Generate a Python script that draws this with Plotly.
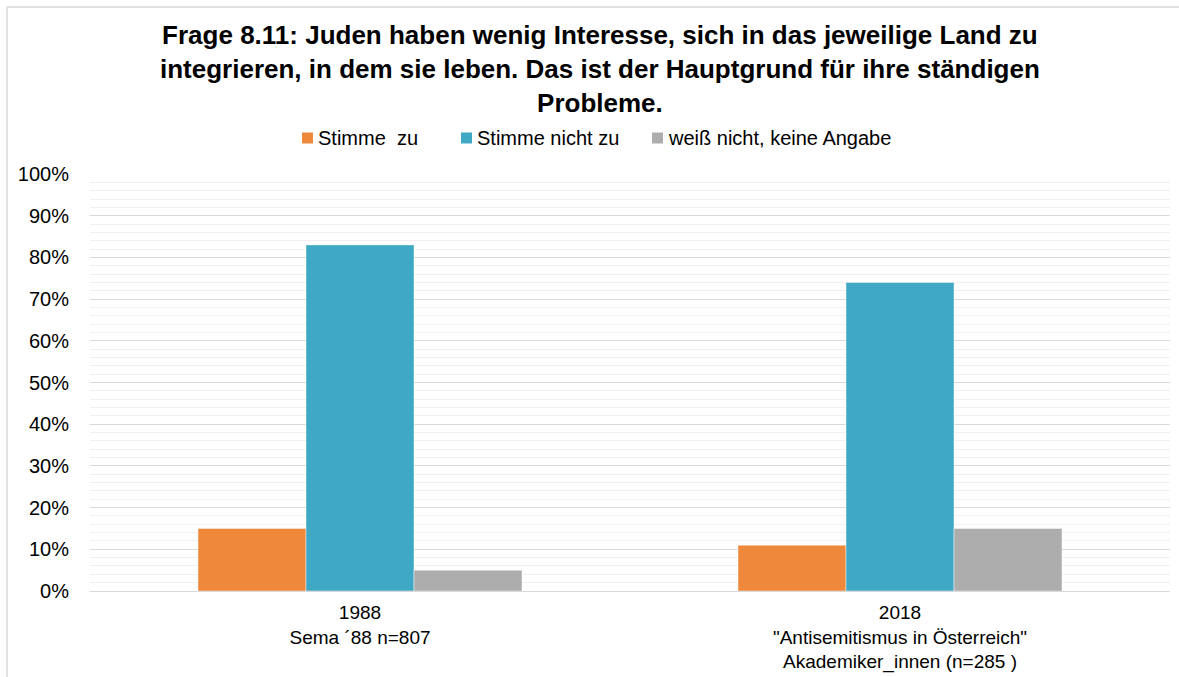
import plotly.graph_objects as go

categories = ["1988<br>Sema ´88 n=807",
              "2018<br>\"Antisemitismus in Österreich\"<br>Akademiker_innen (n=285 )"]
series_names = ["Stimme\u00a0 zu", "Stimme nicht zu", "weiß nicht, keine Angabe"]
stimme_zu = [15, 11]
stimme_nicht_zu = [83, 74]
weiss_nicht = [5, 15]
colors = ["#EE883A", "#3EA8C5", "#ADADAD"]
y_ticks = list(range(0, 101, 10))
y_labels = [f"{v}%" for v in y_ticks]

title_lines = ["Frage 8.11: Juden haben wenig Interesse, sich in das jeweilige Land zu",
               "integrieren, in dem sie leben. Das ist der Hauptgrund für ihre ständigen",
               "Probleme."]

FONT = "Liberation Sans, Arial, sans-serif"
L, R, T, B = 90, 9, 174, 86
W, H = 1179, 677
pw, ph = W - L - R, H - T - B


def px_x(x):
    return (x - L) / pw


def px_y(y):
    return 1 - (y - T) / ph


fig = go.Figure()
for name, vals, col in zip(series_names, [stimme_zu, stimme_nicht_zu, weiss_nicht], colors):
    fig.add_trace(go.Bar(x=categories, y=vals, name=name, showlegend=False,
                         marker=dict(color=col, line=dict(color="rgba(255,255,255,0.45)", width=1))))

annotations = [dict(text="<b>" + "<br>".join(title_lines) + "</b>", xref="paper", yref="paper",
                    x=px_x(600), y=px_y(69), xanchor="center", yanchor="middle", align="center",
                    showarrow=False, font=dict(size=26, family=FONT, color="#000000"))]

shapes = []
legend_sq_x = [302, 461, 652]
legend_y = 138
for name, col, sx in zip(series_names, colors, legend_sq_x):
    shapes.append(dict(type="rect", xref="paper", yref="paper",
                       x0=px_x(sx), x1=px_x(sx + 11), y0=px_y(legend_y - 5.5), y1=px_y(legend_y + 5.5),
                       fillcolor=col, line=dict(width=0)))
    annotations.append(dict(text=name, xref="paper", yref="paper",
                            x=px_x(sx + 14), y=px_y(legend_y), xanchor="left", yanchor="middle",
                            showarrow=False, font=dict(size=20, family=FONT, color="#000000")))

shapes += [
    dict(type="line", xref="paper", yref="paper",
         x0=px_x(7), x1=px_x(7), y0=px_y(7), y1=px_y(H + 5),
         line=dict(color="#D9D9D9", width=1.5)),
    dict(type="line", xref="paper", yref="paper",
         x0=px_x(7), x1=px_x(W + 5), y0=px_y(7), y1=px_y(7),
         line=dict(color="#D9D9D9", width=1.5)),
]

fig.update_layout(
    width=W, height=H,
    margin=dict(l=L, r=R, t=T, b=B),
    paper_bgcolor="white", plot_bgcolor="white",
    font=dict(family=FONT, color="#000000", size=19),
    barmode="group", bargap=0.4, bargroupgap=0,
    showlegend=False,
    xaxis=dict(showgrid=False, showline=True, linecolor="#D9D9D9", linewidth=1, automargin=False,
               ticks="", ticklabelstandoff=4, tickfont=dict(size=19, color="#000000")),
    yaxis=dict(range=[0, 100], tickvals=y_ticks, ticktext=y_labels, automargin=False,
               showgrid=True, gridcolor="#D9D9D9", gridwidth=1,
               minor=dict(dtick=2, showgrid=True, gridcolor="#F0F0F0", gridwidth=1),
               zeroline=False, ticks="", ticklabelstandoff=20,
               tickfont=dict(size=20, color="#000000")),
    shapes=shapes,
    annotations=annotations,
)

fig.write_html("out.html", config={"displayModeBar": False},
               post_script="document.body.style.margin='0';document.body.style.overflow='hidden';")
